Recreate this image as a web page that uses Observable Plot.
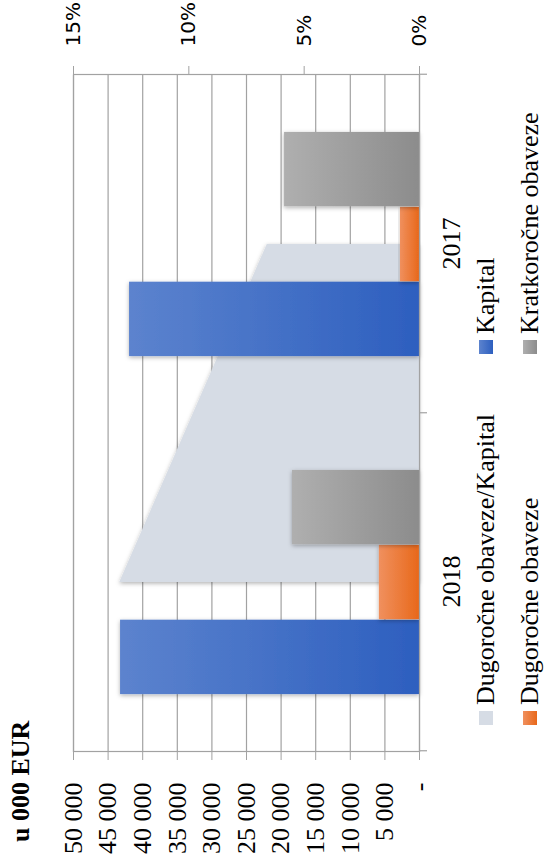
<!DOCTYPE html>
<html><head><meta charset="utf-8">
<script src="https://cdn.jsdelivr.net/npm/d3@7"></script>
<script src="https://cdn.jsdelivr.net/npm/@observablehq/plot@0.6"></script>
<style>
html,body{margin:0;padding:0;background:#fff;overflow:hidden;}
#page{width:545px;height:866px;position:relative;overflow:hidden;background:#fff;}
#fig{position:absolute;left:0;top:0;width:866px;height:545px;transform-origin:0 0;transform:translateY(866px) rotate(-90deg);font-family:"Liberation Serif","Times New Roman",serif;color:#000;}
#title{height:40px;position:relative;}
#title span{position:absolute;left:24px;top:8px;font-weight:bold;font-size:26px;line-height:26px;white-space:nowrap;}
#chart svg{display:block;}
#legend{position:relative;height:70px;}
.item{position:absolute;height:30px;display:flex;align-items:center;font-size:26px;white-space:nowrap;}
.sw{width:14px;height:14px;margin-right:6px;flex:none;}
</style></head>
<body><div id="page"><div id="fig">
<div id="title"><span>u 000 EUR</span></div>
<div id="chart"></div>
<div id="legend"></div>
</div></div>
<script>
// ---- data ----
const years = ["2018", "2017"];
const kapital = [43200, 41900];
const dugorocne = [5800, 2750];
const kratkorocne = [18350, 19500];
const ratioPct = [13.0, 6.6];
const seriesNames = ["Kapital", "Dugoročne obaveze", "Kratkoročne obaveze"];
const ratioName = "Dugoročne obaveze/Kapital";
const yTicks = [0, 5000, 10000, 15000, 20000, 25000, 30000, 35000, 40000, 45000, 50000];
const pctTicks = [0, 5, 10, 15];

// ---- layout ----
const W = 866, H = 435, mL = 114, mR = 75, mT = 33, mB = 56;
const yMax = 50000, pctMax = 15;
const BW = (W - mL - mR) / years.length;
const gap = 1.52;
const bw = BW / (3 + gap);
const off = gap * bw / 2;
const fmt = d3.formatLocale({thousands: " ", grouping: [3], decimal: ","}).format(",");
const gridColor = "#a2a2a2";

const series = [
  {name: seriesNames[0], values: kapital, fill: "url(#gBlue)"},
  {name: seriesNames[1], values: dugorocne, fill: "url(#gOrange)"},
  {name: seriesNames[2], values: kratkorocne, fill: "url(#gGray)"}
];
const ratioRows = years.map((y, i) => ({year: y, ratio: ratioPct[i]}));

const barMarks = series.map((s, k) => Plot.barY(
  years.map((y, i) => ({year: y, value: s.values[i]})),
  {x: "year", y: "value", fill: s.fill, insetLeft: off + k * bw, insetRight: BW - off - (k + 1) * bw}
));

const chart = Plot.plot({
  width: W, height: H,
  marginLeft: mL, marginRight: mR, marginTop: mT, marginBottom: mB,
  style: {fontFamily: "'Liberation Serif', serif", fontSize: "26px", background: "#fff", overflow: "visible", color: "#000"},
  x: {type: "band", domain: years, padding: 0},
  y: {domain: [0, yMax]},
  marks: [
    Plot.gridY(yTicks, {stroke: gridColor, strokeOpacity: 1, strokeWidth: 1.2}),
    Plot.areaY(ratioRows, {x: "year", y: d => d.ratio * yMax / pctMax, fill: "#d6dce5"}),
    ...barMarks,
    Plot.frame({stroke: gridColor, strokeWidth: 1.2}),
    Plot.ruleX(["2018", "2017"], {x: d => d, y1: 0, y2: 0, insetBottom: -8, dx: -BW / 2, stroke: gridColor, strokeWidth: 1.2}),
    Plot.ruleX(["2017"], {x: d => d, y1: 0, y2: 0, insetBottom: -8, dx: BW / 2, stroke: gridColor, strokeWidth: 1.2}),
    Plot.axisY(yTicks, {anchor: "left", tickSize: 8, tickPadding: 23, stroke: gridColor, fill: "#000",
      fontSize: 26, fontFamily: "'Liberation Serif', serif",
      tickFormat: d => d === 0 ? "-" : fmt(d), label: null}),
    Plot.axisY(pctTicks.map(p => p * yMax / pctMax), {anchor: "right", tickSize: 8, tickPadding: 20, stroke: gridColor, fill: "#000",
      fontSize: 20, fontFamily: "'DejaVu Sans', sans-serif",
      tickFormat: d => Math.round(d * pctMax / yMax) + "%", label: null}),
    Plot.axisX({tickSize: 0, tickPadding: 22, fontSize: 26, fontFamily: "'Liberation Serif', serif", fill: "#000", label: null})
  ]
});

// gradients and shadow
const svg = d3.select(chart);
const defs = svg.insert("defs", ":first-child");
function grad(id, c1, c2) {
  const g = defs.append("linearGradient").attr("id", id).attr("x1", 0).attr("y1", 0).attr("x2", 0).attr("y2", 1);
  g.append("stop").attr("offset", "0%").attr("stop-color", c1);
  g.append("stop").attr("offset", "100%").attr("stop-color", c2);
}
grad("gBlue", "#5c83ce", "#2d5fbf");
grad("gOrange", "#f0905e", "#e8681a");
grad("gGray", "#afafaf", "#8c8c8c");
const f = defs.append("filter").attr("id", "shadow").attr("x", "-10%").attr("y", "-10%").attr("width", "120%").attr("height", "120%");
f.append("feDropShadow").attr("dx", -1.5).attr("dy", 0).attr("stdDeviation", 2).attr("flood-color", "#000").attr("flood-opacity", 0.3);
svg.selectAll("g[aria-label='bar'] rect").attr("filter", "url(#shadow)");
svg.selectAll("g[aria-label='area'] path").attr("filter", "url(#shadow)");
document.getElementById("chart").appendChild(chart);

// legend
const legendItems = [
  {name: ratioName, bg: "#d6dce5", left: 141, row: 0},
  {name: seriesNames[0], bg: "linear-gradient(#5c83ce,#2d5fbf)", left: 512, row: 0},
  {name: seriesNames[1], bg: "linear-gradient(#f0905e,#e8681a)", left: 141, row: 1},
  {name: seriesNames[2], bg: "linear-gradient(#afafaf,#8c8c8c)", left: 512, row: 1}
];
const leg = d3.select("#legend");
legendItems.forEach(it => {
  const d = leg.append("div").attr("class", "item").style("left", it.left + "px").style("top", (it.row === 0 ? -4.5 : 40) + "px");
  d.append("div").attr("class", "sw").style("background", it.bg);
  d.append("span").text(it.name);
});
</script>
</body></html>
